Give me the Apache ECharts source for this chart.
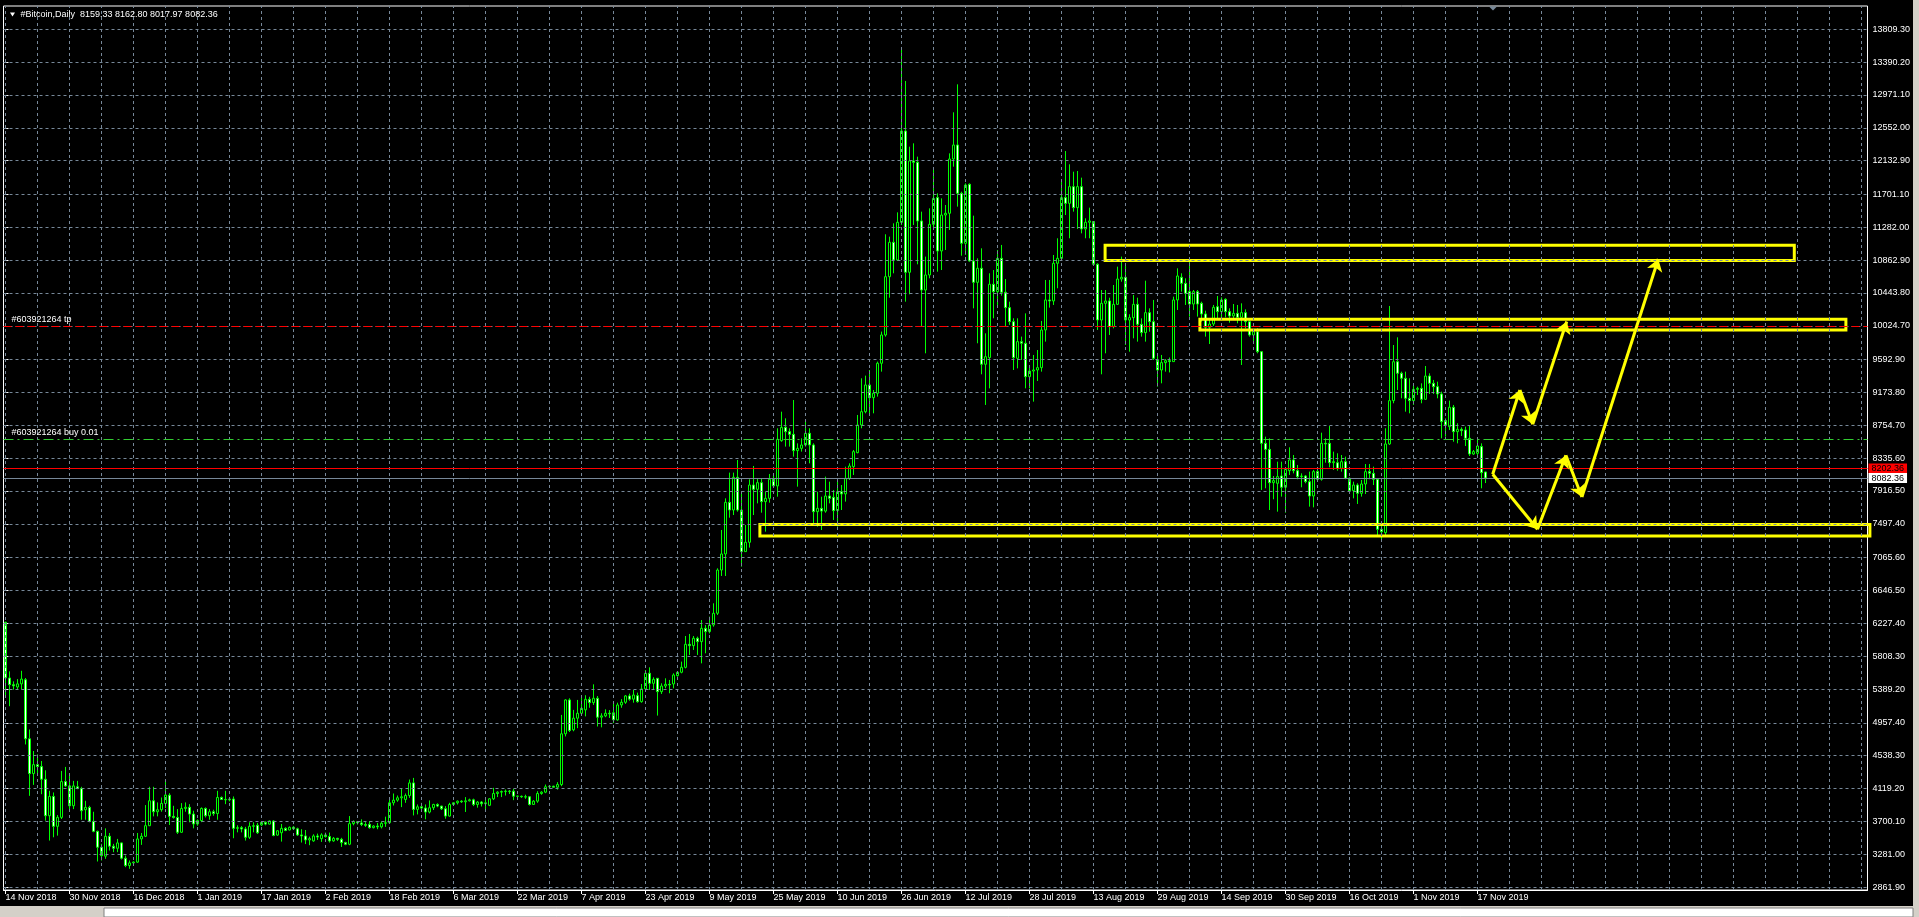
<!DOCTYPE html>
<html><head><meta charset="utf-8">
<script src="https://cdn.jsdelivr.net/npm/echarts@6/dist/echarts.min.js"></script>
<style>html,body{margin:0;padding:0;background:#000;overflow:hidden}#c{width:1919px;height:917px}</style>
</head><body><div id="c"></div>
<script>
const symbolName = '#Bitcoin';
const timeframe = 'Daily';
const startDate = [2018, 10, 14];
const slotCount = 466;
const xTickLabels = ['14 Nov 2018','30 Nov 2018','16 Dec 2018','1 Jan 2019','17 Jan 2019','2 Feb 2019','18 Feb 2019','6 Mar 2019','22 Mar 2019','7 Apr 2019','23 Apr 2019','9 May 2019','25 May 2019','10 Jun 2019','26 Jun 2019','12 Jul 2019','28 Jul 2019','13 Aug 2019','29 Aug 2019','14 Sep 2019','30 Sep 2019','16 Oct 2019','1 Nov 2019','17 Nov 2019'];
const priceTicks = [13809.30,13390.20,12971.10,12552.00,12132.90,11701.10,11282.00,10862.90,10443.80,10024.70,9592.90,9173.80,8754.70,8335.60,7916.50,7497.40,7065.60,6646.50,6227.40,5808.30,5389.20,4957.40,4538.30,4119.20,3700.10,3281.00,2861.90];

const opens = [6240,5530,5445,5415,5455,5508,4754,4310,4424,4399,
4238,3772,4018,3637,3751,4208,4153,3899,4141,4119,
3849,3878,3700,3573,3370,3256,3510,3383,3357,3425,
3230,3137,3170,3180,3476,3510,3645,3963,3823,3849,
3929,4035,3764,3750,3561,3865,3880,3793,3667,3710,
3865,3772,3823,3800,4005,3980,3975,3985,3611,3620,
3603,3497,3637,3650,3655,3688,3665,3705,3525,3555,
3611,3590,3624,3605,3527,3514,3463,3451,3514,3480,
3527,3506,3451,3484,3471,3429,3408,3671,3696,3680,
3660,3662,3620,3641,3630,3675,3683,3937,3971,4001,
3980,4030,4191,3853,3886,3870,3819,3874,3916,3895,
3861,3768,3916,3937,3958,3950,3962,3975,3916,3946,
3925,3905,3988,4056,4073,4081,4081,4086,4022,4020,
4014,4014,3916,3958,4056,4073,4141,4149,4136,4170,
4818,5250,4869,5017,5080,5123,5258,5216,5271,5030,
5046,5080,5085,4995,5186,5220,5301,5260,5305,5228,
5390,5590,5462,5526,5356,5428,5449,5454,5560,5603,
5666,5960,5943,6037,5994,6164,6122,6207,6356,6908,
7113,7772,7674,8091,7674,7143,7262,7993,7938,8023,
7781,7823,8066,7981,8559,8729,8674,8640,8432,8461,
8504,8653,8504,7653,7695,7660,7853,7836,7666,7908,
7879,8078,8227,8406,8759,8929,9270,9108,9164,9547,
9908,10652,11091,10865,11346,12511,10708,12129,12112,11363,
10482,10674,11320,11661,10980,11439,11461,12154,12333,11716,
11078,11831,10852,10580,10759,9534,9619,10555,10461,10886,
10453,10257,10078,9610,9823,9802,9376,9448,9461,9491,
9972,10355,10342,10823,10886,11661,11588,11801,11533,11801,
11261,11346,11355,10810,10099,10312,10342,10014,10299,10622,
10644,10099,10129,10299,10044,9938,10193,10078,9589,9461,
9555,9580,9568,10355,10644,10567,10461,10303,10461,10312,
10176,10006,10048,10269,10206,10363,10206,10150,10184,10133,
10193,10078,9908,9950,9695,8525,8448,8023,8015,8108,
7964,8176,8313,8176,8100,8108,8036,7853,8164,8066,
8525,8525,8278,8278,8206,8291,8079,7921,7993,7887,
8006,8164,8142,8066,7428,7385,8517,9070,9567,9419,
9355,9100,9070,9214,9227,9087,9384,9291,9248,9155,
8815,8738,8985,8674,8704,8695,8589,8389,8398,8483,8159.33];
const highs = [6250,5615,5487,5516,5622,5530,4873,4598,4555,4471,
4352,4090,4069,3781,4344,4395,4302,4217,4217,4141,
3963,3899,3823,3582,3413,3611,3552,3413,3476,3430,
3264,3201,3190,3552,3552,3908,4141,4141,3942,4005,
4225,4060,3899,3857,3933,3942,3920,3836,3725,3878,
3878,3857,3849,4090,4018,4090,4000,4018,3650,3640,
3630,3688,3688,3680,3700,3700,3712,3715,3590,3667,
3625,3635,3640,3620,3600,3590,3505,3535,3544,3548,
3557,3557,3500,3490,3490,3440,3768,3713,3700,3726,
3690,3705,3650,3680,3700,3760,4001,4056,4030,4115,
4056,4234,4255,3916,3937,3916,3967,3925,3930,3900,
3895,3937,3945,3967,3970,4010,3990,3990,3960,3960,
3980,3997,4128,4085,4094,4107,4100,4115,4030,4030,
4040,4022,3971,4085,4085,4170,4157,4155,4200,5059,
5258,5271,5123,5250,5290,5310,5290,5449,5300,5080,
5130,5120,5210,5215,5260,5313,5330,5377,5343,5454,
5632,5666,5539,5526,5462,5526,5505,5590,5611,5739,
6066,6092,6066,6058,6270,6207,6313,6483,6930,7419,
7823,8151,8151,8312,7908,7483,8066,8236,8078,8078,
7908,8134,8134,8717,8929,8844,8717,9078,8525,8589,
8823,8717,8525,7908,7844,8100,8036,7930,8036,7993,
8227,8270,8440,8887,9355,9389,9461,9206,9568,9951,
11193,11163,11333,11473,13575,13150,12311,12354,12184,11482,
10908,11524,12035,11716,11652,11567,12226,12750,13107,11737,
11843,11843,11431,10886,11014,9929,10695,10737,10993,11057,
10622,10333,10121,10121,9887,10184,9525,9653,9716,10087,
10610,10610,10929,11142,11899,12256,12086,11992,12001,11916,
11397,11533,11355,10823,10482,10482,10384,10546,10780,10908,
10810,10172,10418,10384,10120,10601,10248,10355,9674,9653,
9600,9620,10397,10759,10695,10631,10886,10482,10482,10333,
10218,10120,10291,10406,10388,10376,10248,10303,10291,10312,
10235,10099,9972,9993,9700,8610,8589,8108,8291,8291,
8210,8474,8376,8249,8142,8121,8164,8185,8185,8661,
8589,8746,8419,8398,8376,8355,8091,8036,8015,8057,
8261,8261,8227,8079,7525,8717,10278,9780,9878,9440,
9440,9355,9291,9248,9291,9512,9419,9334,9312,9185,
8844,9070,9015,8781,8729,8738,8759,8440,8589,8525,8162.80];
const lows = [5290,5170,5381,5390,5381,4682,4026,4166,4280,4047,
3709,3455,3497,3518,3730,4140,3836,3857,4111,3721,
3721,3688,3561,3188,3201,3222,3328,3307,3307,3214,
3116,3095,3150,3171,3400,3500,3640,3764,3764,3823,
3870,3654,3735,3539,3552,3823,3688,3611,3645,3690,
3750,3721,3772,3721,3980,3920,3955,3485,3560,3560,
3455,3476,3560,3540,3640,3650,3660,3510,3515,3442,
3575,3585,3595,3515,3430,3410,3396,3440,3463,3438,
3493,3430,3440,3451,3374,3396,3396,3650,3660,3640,
3630,3607,3610,3600,3610,3630,3680,3903,3950,3882,
3937,4000,3776,3789,3844,3726,3802,3845,3880,3845,
3734,3760,3900,3916,3935,3820,3955,3895,3875,3890,
3820,3895,3972,4010,4010,4030,4050,3971,4010,4000,
3988,3903,3916,3937,4040,4060,4115,4135,4105,4149,
4784,4840,4850,4890,5060,5040,5150,5186,4911,4900,
5030,5020,4955,4985,5150,5200,5240,5215,5215,5215,
5356,5377,5377,5050,5326,5398,5335,5398,5547,5590,
5653,5824,5888,5824,5717,5845,6100,6185,6334,6832,
6832,7576,7610,7653,6951,7143,7194,7610,7759,7640,
7398,7768,7972,7844,8545,8483,8483,8355,7972,8419,
8483,8270,7504,7462,7419,7640,7759,7547,7462,7674,
7781,8057,8121,8398,8717,8908,8908,8908,9121,9440,
9887,10384,10695,10852,11312,10333,10427,11312,10810,10014,
9674,10631,11269,10716,10737,10993,11248,12056,11546,10920,
10929,10844,10248,9802,9406,9015,9227,10121,10291,10410,
10014,10036,9461,9482,9589,9227,9227,9057,9321,9440,
9823,10257,10291,10504,10886,11439,11142,11482,11261,11205,
11142,11142,10801,9972,9406,9674,9908,9993,10291,10588,
9780,9695,9865,9823,9887,9823,9950,9589,9248,9291,
9440,9430,9568,10227,10461,10291,10142,10227,10142,10078,
9887,9793,10023,10099,10133,10133,10065,10120,10057,9525,
9993,9887,9801,9674,7930,7951,7674,7811,7653,7845,
7640,8121,8142,8066,7964,8015,7717,7708,8057,8049,
8278,8219,8185,8176,8164,8066,7908,7823,7751,7845,
7878,8066,7993,7343,7300,7334,8504,9036,9206,9100,
8929,8908,9015,9142,9036,9080,9155,9155,9100,8589,
8610,8695,8546,8525,8619,8491,8363,8376,8355,7951,8017.97];
const closes = [5530,5445,5430,5455,5516,4754,4310,4424,4399,4238,
3772,4018,3637,3751,4208,4153,3899,4153,4119,3836,
3878,3700,3573,3370,3264,3510,3383,3357,3425,3230,
3137,3170,3180,3476,3510,3645,3963,3823,3849,3929,
4035,3764,3750,3561,3865,3880,3793,3667,3710,3865,
3772,3823,3800,4005,3980,3975,3985,3611,3620,3603,
3497,3637,3645,3555,3688,3665,3705,3520,3580,3611,
3585,3624,3605,3527,3514,3463,3480,3514,3500,3527,
3506,3451,3484,3471,3429,3408,3671,3696,3680,3660,
3650,3620,3641,3630,3675,3683,3937,3971,4001,4014,
4030,4191,3853,3886,3870,3819,3874,3916,3895,3861,
3768,3916,3937,3958,3950,3962,3975,3916,3946,3925,
3937,3988,4056,4073,4081,4086,4086,4022,4020,4014,
4010,3916,3958,4056,4073,4141,4149,4136,4170,4818,
5250,4860,5017,5080,5144,5258,5216,5271,5030,5046,
5080,5072,4995,5186,5220,5301,5260,5313,5228,5390,
5590,5462,5513,5356,5428,5449,5441,5569,5603,5666,
5960,5943,6037,5994,6164,6122,6207,6356,6908,7113,
7772,7674,8091,7674,7143,7262,7993,7938,8023,7781,
7823,8066,7981,8576,8729,8674,8640,8432,8461,8504,
8653,8504,7653,7695,7660,7853,7823,7666,7908,7879,
8078,8236,8419,8759,8929,9270,9108,9164,9547,9908,
10652,11091,10865,11346,12511,10708,12129,12112,11363,10482,
10674,11320,11652,10980,11439,11461,12154,12333,11716,11078,
11822,10852,10580,10759,9534,9631,10555,10461,10886,10453,
10257,10078,9619,9823,9802,9376,9448,9461,9491,9972,
10355,10342,10823,10886,11661,11588,11801,11533,11801,11261,
11346,11363,10810,10099,10312,10342,10014,10299,10622,10644,
10099,10129,10299,10044,9938,10193,10078,9610,9461,9555,
9580,9570,10355,10661,10567,10439,10303,10461,10303,10176,
10006,10048,10261,10206,10355,10206,10150,10184,10133,10193,
10078,9908,9950,9695,8525,8448,8023,8049,8100,7964,
8193,8313,8176,8100,8108,8036,7853,8164,8066,8525,
8517,8278,8291,8206,8291,8079,7921,7993,7887,8006,
8164,8142,8066,7428,7398,8517,9070,9567,9419,9355,
9100,9070,9214,9227,9087,9384,9291,9248,9155,8802,
8760,8985,8674,8704,8687,8589,8389,8419,8491,8151,8082.36];

const orderId = '#603921264';
const tpPrice = 10022.6;
const buyPrice = 8576.5;
const buyLots = '0.01';
const askPrice = 8202.36;
const bidPrice = 8082.36;
// drawn objects: [startBar, endBar, lowPrice, highPrice]
const zones = [[274.9, 447.2, 10858, 11052], [298.6, 460.1, 9971, 10108], [188.6, 466.1, 7342, 7490]];
// drawn arrow paths: [bar, price] vertices
const arrowPaths = [
  [[371.8, 8130], [378.6, 9206], [381.8, 8768], [390.3, 10081]],
  [[371.8, 8130], [383.0, 7428], [390.1, 8371], [394.1, 7839], [413.2, 10878]]
];
const yMin = 2824.2, yMax = 14106.7;

const FONT = 'Tahoma, "Liberation Sans", Arial, sans-serif';
const MONTHS = ['Jan','Feb','Mar','Apr','May','Jun','Jul','Aug','Sep','Oct','Nov','Dec'];
const categories = [];
const t0 = Date.UTC(startDate[0], startDate[1], startDate[2]);
for (let i = 0; i < slotCount; i++) {
  const d = new Date(t0 + i * 86400000);
  categories.push(d.getUTCDate() + ' ' + MONTHS[d.getUTCMonth()] + ' ' + d.getUTCFullYear());
}
const candleData = opens.map((o, i) => [o, closes[i], lows[i], highs[i]]);
const showTick = (idx, val) => xTickLabels.indexOf(val) >= 0;

const gridLines = [];
for (let k = 0; k < slotCount; k += 8) gridLines.push({ xAxis: k });
priceTicks.forEach(p => gridLines.push({ yAxis: p }));

const segs = [];
arrowPaths.forEach(path => { for (let i = 1; i < path.length; i++) segs.push({ coords: [path[i - 1], path[i]] }); });

const last = opens.length - 1;
const fmt = v => v.toFixed(2);
const titleText = symbolName + ',' + timeframe + '  ' + fmt(opens[last]) + ' ' + fmt(highs[last]) + ' ' + fmt(lows[last]) + ' ' + fmt(closes[last]);

const chart = echarts.init(document.getElementById('c'), null, { renderer: 'canvas' });
chart.setOption({
  backgroundColor: '#000',
  animation: false,
  grid: { left: 3.5, top: 6, width: 1864, height: 884, show: true, borderColor: '#ffffff', borderWidth: 1, backgroundColor: '#000' },
  xAxis: [
    { type: 'category', data: categories, boundaryGap: true,
      axisLine: { show: true, lineStyle: { color: '#ffffff' } },
      axisTick: { show: true, interval: showTick, alignWithLabel: true, length: 4, lineStyle: { color: '#ffffff' } },
      axisLabel: { interval: showTick, align: 'left', color: '#ffffff', fontSize: 9, fontFamily: FONT, margin: 3 },
      splitLine: { show: false } },
    { type: 'value', min: -0.5, max: slotCount - 0.5, show: false }
  ],
  yAxis: { type: 'value', position: 'right', min: yMin, max: yMax,
    axisLine: { show: false },
    axisTick: { show: true, customValues: priceTicks, length: 3, lineStyle: { color: '#ffffff' } },
    axisLabel: { customValues: priceTicks, formatter: v => v.toFixed(2), color: '#ffffff', fontSize: 9, fontFamily: FONT, margin: 5 },
    splitLine: { show: false } },
  series: [
    { type: 'line', xAxisIndex: 1, data: [], z: 1, silent: true,
      markLine: { silent: true, symbol: ['none', 'none'], animation: false, label: { show: false },
        lineStyle: { color: '#778899', type: [3, 3], width: 1 }, data: gridLines } },
    { type: 'candlestick', data: candleData, barWidth: 2, z: 2,
      itemStyle: { color: '#000000', color0: '#ffffff', borderColor: '#00ff00', borderColor0: '#00ff00', borderColorDoji: '#00ff00', borderWidth: 1 } },
    { type: 'line', xAxisIndex: 1, data: [], z: 3, silent: true,
      markLine: { silent: true, symbol: ['none', 'none'], animation: false,
        data: [
          { yAxis: tpPrice, lineStyle: { color: '#ff0000', type: [8, 4], width: 1 },
            label: { show: true, position: 'insideStartTop', formatter: orderId + ' tp', color: '#ffffff', fontSize: 9, fontFamily: FONT, distance: [8, 2] } },
          { yAxis: buyPrice, lineStyle: { color: '#32cd32', type: [10, 4, 2, 4], width: 1 },
            label: { show: true, position: 'insideStartTop', formatter: orderId + ' buy ' + buyLots, color: '#ffffff', fontSize: 9, fontFamily: FONT, distance: [8, 2] } },
          { yAxis: askPrice, lineStyle: { color: '#ff0000', type: 'solid', width: 1 },
            label: { show: true, position: 'end', formatter: fmt(askPrice), backgroundColor: '#ff0000', color: '#000000', fontSize: 9, fontFamily: FONT, padding: [1, 3, 0, 3], distance: 1 } },
          { yAxis: bidPrice, lineStyle: { color: '#778899', type: 'solid', width: 1 },
            label: { show: true, position: 'end', formatter: fmt(bidPrice), backgroundColor: '#ffffff', color: '#000000', fontSize: 9, fontFamily: FONT, padding: [1, 3, 0, 3], distance: 1 } }
        ] } },
    { type: 'custom', xAxisIndex: 1, yAxisIndex: 0, z: 4, clip: false, silent: true, data: zones,
      renderItem: (params, api) => {
        const a = api.coord([api.value(0), api.value(3)]);
        const b = api.coord([api.value(1), api.value(2)]);
        return { type: 'rect', shape: { x: a[0], y: a[1], width: b[0] - a[0], height: b[1] - a[1] },
          style: { fill: 'none', stroke: '#ffff00', lineWidth: 3 } };
      } },
    { type: 'lines', coordinateSystem: 'cartesian2d', xAxisIndex: 1, yAxisIndex: 0, z: 5, silent: true,
      symbol: ['none', 'arrow'], symbolSize: 12,
      lineStyle: { color: '#ffff00', width: 3, opacity: 1, curveness: 0 }, data: segs }
  ],
  graphic: [
    { type: 'polygon', shape: { points: [[10, 12.5], [15, 12.5], [12.5, 16.5]] }, style: { fill: '#ffffff' }, z: 100 },
    { type: 'text', x: 20.5, y: 15, style: { text: titleText, fill: '#ffffff', font: '9px ' + FONT, verticalAlign: 'middle' }, z: 100 },
    { type: 'polygon', shape: { points: [[1489, 6.5], [1497, 6.5], [1493, 10.5]] }, style: { fill: '#778899' }, z: 100 },
    { type: 'rect', shape: { x: 1913, y: 0, width: 6, height: 917 }, style: { fill: '#d4d0c8' }, z: 100 },
    { type: 'rect', shape: { x: 0, y: 906, width: 1919, height: 11 }, style: { fill: '#d4d0c8' }, z: 100 },
    { type: 'rect', shape: { x: 104, y: 908, width: 1809, height: 9 }, style: { fill: '#ffffff', stroke: '#808080', lineWidth: 1 }, z: 101 }
  ]
});
</script></body></html>
